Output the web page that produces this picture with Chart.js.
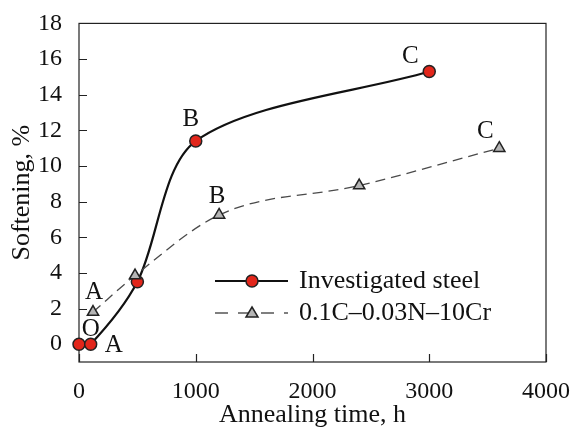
<!DOCTYPE html>
<html>
<head>
<meta charset="utf-8">
<script src="https://cdn.jsdelivr.net/npm/chart.js@4"></script>
<style>body{margin:0;background:#fff}</style>
</head>
<body>
<canvas id="softChart" width="577" height="428"></canvas>
<script>
// annealing time (h) vs softening (%)
const steelTime = [0, 100, 500, 1000, 3000];
const steelSoft = [0, 0, 3.5, 11.4, 15.3];
const crTime = [120, 480, 1200, 2400, 3600];
const crSoft = [1.8, 3.85, 7.25, 8.9, 11.0];
const xTicks = [0, 1000, 2000, 3000, 4000];
const yTicks = [0, 2, 4, 6, 8, 10, 12, 14, 16, 18];
const seriesNames = ['Investigated steel', '0.1C\u20130.03N\u201310Cr'];
// letters next to points
const noteText = ['O', 'A', 'A', 'B', 'B', 'C', 'C'];
const noteX = [100, 100, 120, 1000, 1200, 3000, 3600];
const noteY = [0, 0, 1.8, 11.4, 7.25, 15.3, 11.0];

const serif = "'Liberation Serif', 'Times New Roman', serif";
const redFill = '#e2261b';
const triFill = '#b5b5b5';

function toXY(xs, ys) {
	return xs.map((v, i) => ({ x: v, y: ys[i] }));
}

// box + inward ticks
const frame = {
	id: 'frame',
	beforeDatasetsDraw(chart) {
		const { ctx, chartArea: a, scales: { x, y } } = chart;
		ctx.save();
		ctx.strokeStyle = '#222';
		ctx.lineWidth = 1.2;
		ctx.strokeRect(a.left, a.top, a.right - a.left, a.bottom - a.top);
		ctx.beginPath();
		y.ticks.forEach(t => {
			const py = Math.round(y.getPixelForValue(t.value)) + 0.5;
			ctx.moveTo(a.left, py);
			ctx.lineTo(a.left + 8, py);
		});
		x.ticks.forEach(t => {
			const px = Math.round(x.getPixelForValue(t.value)) + 0.5;
			ctx.moveTo(px, a.bottom);
			ctx.lineTo(px, a.bottom - 8);
		});
		ctx.stroke();
		ctx.restore();
	}
};

// letters + legend inside the plot
const extras = {
	id: 'extras',
	afterDraw(chart) {
		const { ctx, scales: { x, y } } = chart;
		const offs = [[0, -15], [23, 1], [1, -20], [-5, -22], [-2, -19], [-19, -15], [-14, -17]];
		ctx.save();
		ctx.fillStyle = '#111';
		ctx.font = '25px ' + serif;
		ctx.textAlign = 'center';
		ctx.textBaseline = 'middle';
		noteText.forEach((t, i) => {
			ctx.fillText(t, x.getPixelForValue(noteX[i]) + offs[i][0], y.getPixelForValue(noteY[i]) + offs[i][1]);
		});

		// legend
		const lx0 = 215, lx1 = 288, mx = 252, tx = 299;
		const ly = [281, 313];
		ctx.strokeStyle = '#111';
		ctx.lineWidth = 2.2;
		ctx.beginPath();
		ctx.moveTo(lx0, ly[0]);
		ctx.lineTo(lx1, ly[0]);
		ctx.stroke();
		ctx.beginPath();
		ctx.arc(mx, ly[0], 6, 0, Math.PI * 2);
		ctx.fillStyle = redFill;
		ctx.fill();
		ctx.lineWidth = 1.5;
		ctx.strokeStyle = '#222';
		ctx.stroke();

		ctx.strokeStyle = '#555';
		ctx.lineWidth = 1.3;
		ctx.setLineDash([13, 10]);
		ctx.beginPath();
		ctx.moveTo(lx0, ly[1]);
		ctx.lineTo(lx1, ly[1]);
		ctx.stroke();
		ctx.setLineDash([]);
		ctx.beginPath();
		ctx.moveTo(mx, ly[1] - 6);
		ctx.lineTo(mx + 6, ly[1] + 4);
		ctx.lineTo(mx - 6, ly[1] + 4);
		ctx.closePath();
		ctx.fillStyle = triFill;
		ctx.fill();
		ctx.strokeStyle = '#222';
		ctx.lineWidth = 1.5;
		ctx.stroke();

		ctx.fillStyle = '#111';
		ctx.font = '26px ' + serif;
		ctx.textAlign = 'left';
		ctx.fillText(seriesNames[0], tx, ly[0]);
		ctx.fillText(seriesNames[1], tx, ly[1]);
		ctx.restore();
	}
};

new Chart(document.getElementById('softChart'), {
	type: 'line',
	data: {
		datasets: [{
			label: seriesNames[0],
			data: toXY(steelTime, steelSoft),
			borderColor: '#111',
			borderWidth: 2.2,
			tension: 0.3,
			pointRadius: 6,
			pointBackgroundColor: redFill,
			pointBorderColor: '#222',
			pointBorderWidth: 1.5,
			clip: false,
			order: 1
		}, {
			label: seriesNames[1],
			data: toXY(crTime, crSoft),
			borderColor: '#4a4a4a',
			borderWidth: 1.3,
			borderDash: [10, 6],
			cubicInterpolationMode: 'monotone',
			pointStyle: 'triangle',
			pointRadius: 6.5,
			pointBackgroundColor: triFill,
			pointBorderColor: '#222',
			pointBorderWidth: 1.5,
			clip: false,
			order: 0
		}]
	},
	options: {
		responsive: false,
		animation: false,
		layout: { padding: { top: 23, right: 28, left: 0, bottom: 0 } },
		plugins: { legend: { display: false }, tooltip: { enabled: false } },
		scales: {
			x: {
				type: 'linear',
				min: 0,
				max: 4000,
				afterBuildTicks: s => { s.ticks = xTicks.map(v => ({ value: v })); },
				afterFit: s => { s.height = 66; },
				grid: { display: false },
				border: { display: false },
				ticks: { color: '#111', padding: 7, maxRotation: 0, callback: v => String(v), font: { family: serif, size: 24 } },
				title: { display: true, text: 'Annealing time, h', color: '#111', padding: 0, font: { family: serif, size: 26, lineHeight: 1 } }
			},
			y: {
				type: 'linear',
				min: -1,
				max: 18,
				afterBuildTicks: s => { s.ticks = yTicks.map(v => ({ value: v })); },
				afterFit: s => { s.width = 79; },
				grid: { display: false },
				border: { display: false },
				ticks: { color: '#111', padding: 9, font: { family: serif, size: 24 } },
				title: { display: true, text: 'Softening, %', color: '#111', padding: { top: 9, bottom: 0 }, font: { family: serif, size: 26, lineHeight: 1 } }
			}
		}
	},
	plugins: [frame, extras]
});
</script>
</body>
</html>
